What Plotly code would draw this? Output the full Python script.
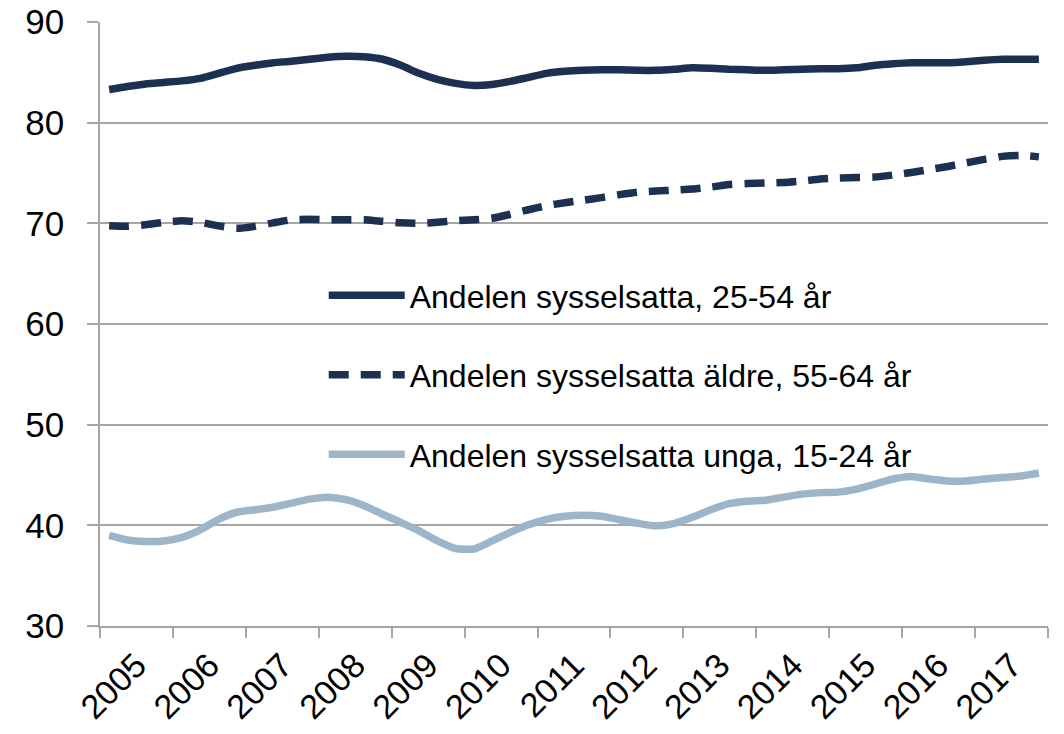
"""Sysselsättningsgrad per åldersgrupp, kvartalsdata 2005-2017."""

import plotly.graph_objects as go

NAVY = "#1c3152"
LIGHT_BLUE = "#9db5c9"
GRID_GRAY = "#a6a6a6"
FONT = "Liberation Sans, Arial, sans-serif"

years = list(range(2005, 2018))
quarters = [f"{y}K{q}" for y in years for q in range(1, 5)]

employed_25_54 = [
    83.3, 83.6, 83.85, 84.0, 84.15, 84.4, 84.9, 85.4, 85.7, 85.95, 86.1, 86.3, 86.5,
    86.6, 86.55, 86.3, 85.7, 84.9, 84.3, 83.9, 83.7, 83.8, 84.1, 84.5, 84.9, 85.1,
    85.2, 85.25, 85.25, 85.2, 85.2, 85.3, 85.45, 85.4, 85.3, 85.25, 85.2, 85.25, 85.3,
    85.35, 85.35, 85.45, 85.7, 85.85, 85.95, 85.95, 85.95, 86.05, 86.2, 86.3, 86.3, 86.3,
]
employed_55_64 = [
    69.75, 69.7, 69.85, 70.1, 70.25, 70.1, 69.75, 69.5, 69.7, 70.05, 70.35, 70.4, 70.35,
    70.35, 70.35, 70.2, 70.05, 70.0, 70.1, 70.25, 70.35, 70.5, 70.9, 71.35, 71.75, 72.05,
    72.3, 72.55, 72.85, 73.1, 73.2, 73.3, 73.4, 73.6, 73.85, 73.95, 74.0, 74.05, 74.2,
    74.4, 74.5, 74.55, 74.6, 74.8, 75.05, 75.35, 75.65, 76.0, 76.35, 76.65, 76.75, 76.6,
]
employed_15_24 = [
    39.0, 38.55, 38.4, 38.45, 38.8, 39.55, 40.6, 41.3, 41.55, 41.8, 42.2, 42.6, 42.8,
    42.55, 41.95, 41.1, 40.3, 39.45, 38.45, 37.7, 37.65, 38.45, 39.3, 40.05, 40.6, 40.9,
    41.0, 40.9, 40.55, 40.2, 39.95, 40.2, 40.8, 41.55, 42.15, 42.4, 42.5, 42.8, 43.1,
    43.25, 43.3, 43.6, 44.1, 44.6, 44.85, 44.6, 44.4, 44.4, 44.6, 44.75, 44.9, 45.2,
]

series_names = [
    "Andelen sysselsatta, 25-54 år",
    "Andelen sysselsatta äldre, 55-64 år",
    "Andelen sysselsatta unga, 15-24 år",
]


def quarter_position(label: str) -> float:
    """Place a quarter in the middle of its slot within the year."""
    year, q = label.split("K")
    return int(year) + (int(q) - 0.5) / 4


x_vals = [quarter_position(q) for q in quarters]

fig = go.Figure()

styles = [
    dict(color=NAVY, width=7.5, dash="solid"),
    dict(color=NAVY, width=7.5, dash="20px,12px"),
    dict(color=LIGHT_BLUE, width=7.5, dash="solid"),
]

for i, (name, values, style) in enumerate(
    zip(series_names, [employed_25_54, employed_55_64, employed_15_24], styles)
):
    fig.add_trace(
        go.Scatter(
            x=x_vals,
            y=values,
            mode="lines",
            name=name,
            legendgroup=f"g{i}",
            line=dict(shape="spline", smoothing=0.6, **style),
            hoverinfo="x+y+name",
        )
    )

# the html page adds an 8px body margin, so margins are set 8px smaller
fig.update_layout(
    width=1064,
    height=734,
    paper_bgcolor="white",
    plot_bgcolor="white",
    font=dict(family=FONT, color="black"),
    margin=dict(l=92, r=24, t=14, b=116, autoexpand=False),
    legend=dict(
        x=0.236,
        y=0.593,
        xanchor="left",
        yanchor="top",
        bgcolor="rgba(0,0,0,0)",
        font=dict(size=32, family=FONT, color="black"),
        tracegroupgap=35,
        itemwidth=76,
    ),
    showlegend=True,
)

fig.update_xaxes(
    range=[2005, 2018],
    tickvals=[y + 0.5 for y in years],
    ticktext=[str(y) for y in years],
    tickangle=-45,
    ticks="",
    ticklabelstandoff=4,
    ticklabeloverflow="allow",
    tickfont=dict(size=34, family=FONT, color="black"),
    automargin=False,
    showgrid=False,
    showline=True,
    linecolor=GRID_GRAY,
    linewidth=1.5,
    zeroline=False,
    minor=dict(
        tick0=2005,
        dtick=1,
        ticks="outside",
        ticklen=10,
        tickcolor=GRID_GRAY,
        tickwidth=1.5,
        showgrid=False,
    ),
)

fig.update_yaxes(
    range=[30, 90],
    dtick=10,
    ticks="outside",
    ticklen=11,
    tickcolor=GRID_GRAY,
    tickwidth=1.5,
    ticklabelstandoff=16,
    ticklabeloverflow="allow",
    tickfont=dict(size=35, family=FONT, color="black"),
    automargin=False,
    showgrid=True,
    gridcolor=GRID_GRAY,
    gridwidth=1.5,
    showline=True,
    linecolor=GRID_GRAY,
    linewidth=1.5,
    zeroline=False,
)

fig.write_html("out.html")
